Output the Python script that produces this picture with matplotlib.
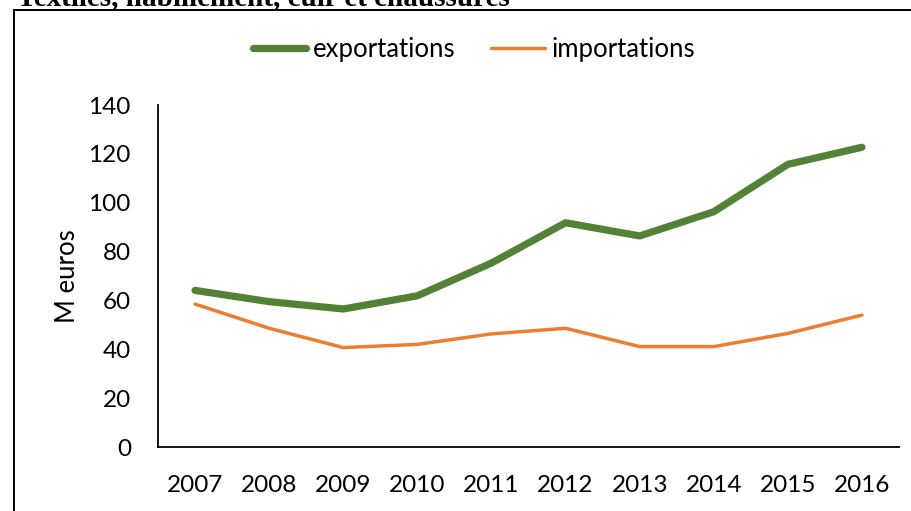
import matplotlib
matplotlib.use("Agg")
import matplotlib.pyplot as plt
from matplotlib.patches import Rectangle

# ----------------- DATA -----------------

years = ["2007", "2008", "2009", "2010", "2011", "2012", "2013", "2014", "2015", "2016"]
exportations = [64.1, 59.5, 56.5, 61.9, 75.3, 91.8, 86.4, 96.3, 115.7, 122.7]
importations = [58.5, 48.6, 40.7, 42.0, 46.3, 48.6, 41.1, 41.1, 46.5, 54.0]
y_ticks = [0, 20, 40, 60, 80, 100, 120, 140]

title = "Textiles, habillement, cuir et chaussures"

GREEN = "#538135"
ORANGE = "#ED7D31"

# ----------------- PLOT -----------------

plt.rcParams["font.family"] = ["Lato", "DejaVu Sans"]

fig = plt.figure(figsize=(9.12, 5.11), dpi=100)
ax = fig.add_axes([158 / 912, 1 - 447 / 511, (899 - 158) / 912, (447 - 105) / 511])

x = list(range(len(years)))
ax.plot(x, exportations, color=GREEN, linewidth=5.2, solid_capstyle="round",
        solid_joinstyle="round", label="exportations")
ax.plot(x, importations, color=ORANGE, linewidth=2.5, solid_capstyle="round",
        solid_joinstyle="round", label="importations")

ax.set_xlim(-0.5, len(years) - 0.5)
ax.set_ylim(0, 140)
ax.set_yticks(y_ticks)
ax.set_xticks(x)
ax.set_xticklabels(years)
ax.tick_params(axis="both", length=0, labelsize=17.5, colors="black")
ax.tick_params(axis="y", pad=19.5)
ax.tick_params(axis="x", pad=20)
ax.set_ylabel("M euros", fontsize=18.5, labelpad=6)

for side in ["top", "right"]:
    ax.spines[side].set_visible(False)
ax.spines["left"].set_linewidth(1.3)
ax.spines["bottom"].set_linewidth(1.3)

ax.legend(loc="center", bbox_to_anchor=(474 / 912, 1 - 49 / 511), bbox_transform=fig.transFigure,
          ncol=2, frameon=False, fontsize=18.5, handlelength=2.1, handletextpad=0.25,
          columnspacing=1.4)

# outer frame (partly cut by the picture edge)
fig.patches.append(Rectangle((14 / 912, -0.1), 1.2, 0.1 + 1 - 10 / 511, transform=fig.transFigure,
                             fill=False, edgecolor="black", linewidth=1.4, clip_on=False))

fig.text(17 / 912, 1 - 5 / 511, title, fontsize=21, fontweight="bold",
         family="Liberation Serif", va="baseline", ha="left")

fig.savefig("out.png", dpi=100)
